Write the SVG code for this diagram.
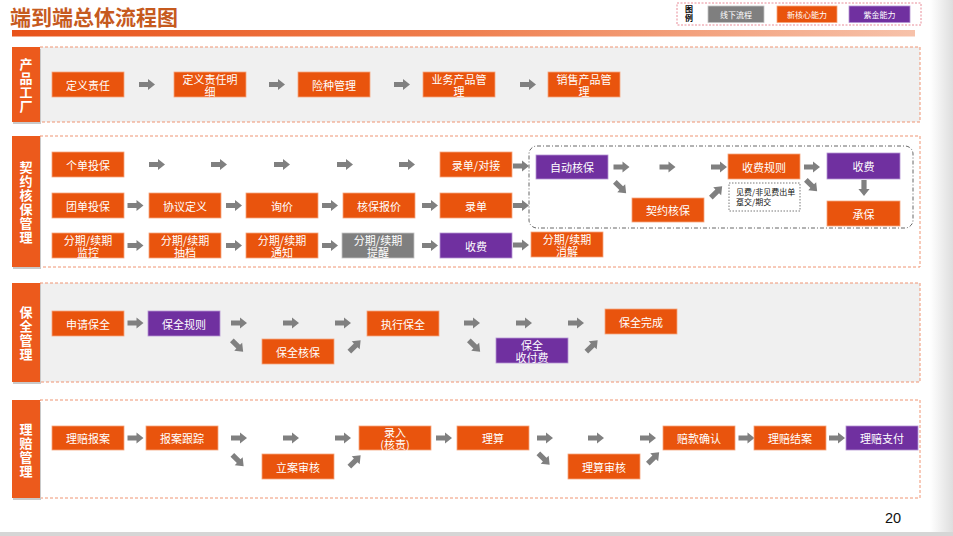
<svg xmlns="http://www.w3.org/2000/svg" xmlns:xlink="http://www.w3.org/1999/xlink" width="953" height="536" viewBox="0 0 953 536">
  <style>
    .o { fill: #e9540d; stroke: #f4a57e; stroke-width: 0.8; }
    .p { fill: #7030a0; stroke: #b594d2; stroke-width: 0.8; }
    .g { fill: #7f7f7f; stroke: #c4c4c4; stroke-width: 0.8; }
    .t { font-family: "Noto Sans CJK SC", "Noto Sans", sans-serif; font-size: 11px; fill: #ffffff; text-anchor: middle; dominant-baseline: central; }
    .lt { font-family: "Noto Sans CJK SC", "Noto Sans", sans-serif; font-size: 8px; fill: #ffffff; text-anchor: middle; dominant-baseline: central; }
    .side { font-family: "Noto Sans CJK SC", sans-serif; font-size: 13px; font-weight: bold; fill: #ffffff; text-anchor: middle; writing-mode: vertical-rl; letter-spacing: 1px; }
    .sec { stroke: #ef9472; stroke-width: 1; stroke-dasharray: 3 2; }
    .bar { fill: #ec5a1c; }
    .shadow { fill: #c9c9c9; }
    .arr { fill: #808080; }
  </style>
  <defs>
    <linearGradient id="titleBar" x1="0" y1="0" x2="1" y2="0">
      <stop offset="0" stop-color="#e8531a"/>
      <stop offset="0.5" stop-color="#ef7f4f"/>
      <stop offset="1" stop-color="#f7c2aa"/>
    </linearGradient>
    <linearGradient id="edge" x1="0" y1="0" x2="1" y2="0">
      <stop offset="0" stop-color="#ffffff"/>
      <stop offset="1" stop-color="#dedede"/>
    </linearGradient>
    <!-- block arrow, centred on the origin, pointing right -->
    <polygon id="ar" class="arr" points="-8,-2.6 1,-2.6 1,-5.6 8,0 1,5.6 1,2.6 -8,2.6"/>
  </defs>

  <rect width="953" height="536" fill="#ffffff"/>
  <rect x="930" y="0" width="23" height="536" fill="url(#edge)"/>
  <rect x="0" y="532" width="953" height="4" fill="#d6d6d6"/>

  <!-- heading -->
  <text x="10" y="24.5" font-family="Noto Sans CJK SC, sans-serif" font-size="21" font-weight="bold" fill="#c65a1e">端到端总体流程图</text>
  <rect x="12" y="30" width="903" height="6.5" fill="url(#titleBar)"/>

  <!-- legend -->
  <g id="legend">
    <rect x="677" y="3" width="244" height="22" fill="#ffffff" stroke="#e2707e" stroke-width="0.8" stroke-dasharray="2 1.5"/>
    <text x="689" y="14" font-family="Noto Sans CJK SC, sans-serif" font-size="8" font-weight="bold" fill="#000" text-anchor="middle" dominant-baseline="central" writing-mode="vertical-rl" letter-spacing="1">图例</text>
    <rect class="g" x="708" y="6" width="56" height="16.5"/>
    <text class="lt" x="736" y="14.5">线下流程</text>
    <rect class="o" x="777" y="6" width="60" height="16.5"/>
    <text class="lt" x="807" y="14.5">新核心能力</text>
    <rect class="p" x="849" y="6" width="61" height="16.5"/>
    <text class="lt" x="879.5" y="14.5">紫金能力</text>
  </g>

  <!-- section frames -->
  <g id="sections">
    <rect class="sec" x="40" y="47" width="880" height="75" fill="#f0f0f0"/>
    <rect class="shadow" x="13" y="49" width="28" height="75"/>
    <rect class="bar" x="12" y="47" width="28" height="75"/>
    <text class="side" x="26" y="86">产品工厂</text>

    <rect class="sec" x="40" y="136" width="880" height="131" fill="#ffffff"/>
    <rect class="shadow" x="13" y="138" width="28" height="131"/>
    <rect class="bar" x="12" y="136" width="28" height="131"/>
    <text class="side" x="26" y="203">契约核保管理</text>

    <rect class="sec" x="40" y="283" width="880" height="99" fill="#f0f0f0"/>
    <rect class="shadow" x="13" y="285" width="28" height="99"/>
    <rect class="bar" x="12" y="283" width="28" height="99"/>
    <text class="side" x="26" y="333.5">保全管理</text>

    <rect class="sec" x="40" y="400" width="880" height="98" fill="#ffffff"/>
    <rect class="shadow" x="13" y="402" width="28" height="98"/>
    <rect class="bar" x="12" y="400" width="28" height="98"/>
    <text class="side" x="26" y="450.5">理赔管理</text>
  </g>

  <!-- underwriting sub-area -->
  <rect id="auto-area" x="529" y="146" width="384" height="82" rx="8" fill="none" stroke="#555555" stroke-width="0.9" stroke-dasharray="4 2 1 2"/>

  <!-- connectors -->
  <g id="connectors">
    <!-- product factory -->
    <use xlink:href="#ar" transform="translate(147,84.5)"/>
    <use xlink:href="#ar" transform="translate(277,84.5)"/>
    <use xlink:href="#ar" transform="translate(402,84.5)"/>
    <use xlink:href="#ar" transform="translate(528,84.5)"/>
    <!-- underwriting row 1 -->
    <use xlink:href="#ar" transform="translate(157,164.5)"/>
    <use xlink:href="#ar" transform="translate(219,164.5)"/>
    <use xlink:href="#ar" transform="translate(282,164.5)"/>
    <use xlink:href="#ar" transform="translate(345,164.5)"/>
    <use xlink:href="#ar" transform="translate(407,164.5)"/>
    <use xlink:href="#ar" transform="translate(521,166)"/>
    <!-- underwriting row 2 -->
    <use xlink:href="#ar" transform="translate(135.5,205.5)"/>
    <use xlink:href="#ar" transform="translate(234,205.5)"/>
    <use xlink:href="#ar" transform="translate(330,205.5)"/>
    <use xlink:href="#ar" transform="translate(430,205.5)"/>
    <use xlink:href="#ar" transform="translate(521,205.5)"/>
    <!-- underwriting row 3 -->
    <use xlink:href="#ar" transform="translate(135.5,245.5)"/>
    <use xlink:href="#ar" transform="translate(234,245.5)"/>
    <use xlink:href="#ar" transform="translate(330,245.5)"/>
    <use xlink:href="#ar" transform="translate(430,245.5)"/>
    <use xlink:href="#ar" transform="translate(521,245)"/>
    <!-- inside the underwriting area -->
    <use xlink:href="#ar" transform="translate(621.5,167)"/>
    <use xlink:href="#ar" transform="translate(667.5,167)"/>
    <use xlink:href="#ar" transform="translate(719,167)"/>
    <use xlink:href="#ar" transform="translate(620.5,187.5) rotate(45)"/>
    <use xlink:href="#ar" transform="translate(716.5,192) rotate(-45)"/>
    <use xlink:href="#ar" transform="translate(812,167)"/>
    <use xlink:href="#ar" transform="translate(811.5,185.5) rotate(45)"/>
    <use xlink:href="#ar" transform="translate(864,188) rotate(90)"/>
    <!-- endorsement -->
    <use xlink:href="#ar" transform="translate(135.5,323)"/>
    <use xlink:href="#ar" transform="translate(239,323)"/>
    <use xlink:href="#ar" transform="translate(291,323)"/>
    <use xlink:href="#ar" transform="translate(343,323)"/>
    <use xlink:href="#ar" transform="translate(472,323)"/>
    <use xlink:href="#ar" transform="translate(524,323)"/>
    <use xlink:href="#ar" transform="translate(576,323)"/>
    <use xlink:href="#ar" transform="translate(237.5,346) rotate(45)"/>
    <use xlink:href="#ar" transform="translate(355,346) rotate(-45)"/>
    <use xlink:href="#ar" transform="translate(474.5,346) rotate(45)"/>
    <use xlink:href="#ar" transform="translate(592,346) rotate(-45)"/>
    <!-- claims -->
    <use xlink:href="#ar" transform="translate(135.5,438)"/>
    <use xlink:href="#ar" transform="translate(239,438)"/>
    <use xlink:href="#ar" transform="translate(291,438)"/>
    <use xlink:href="#ar" transform="translate(343,438)"/>
    <use xlink:href="#ar" transform="translate(444,438)"/>
    <use xlink:href="#ar" transform="translate(545,438)"/>
    <use xlink:href="#ar" transform="translate(596,438)"/>
    <use xlink:href="#ar" transform="translate(648,438)"/>
    <use xlink:href="#ar" transform="translate(746.5,438)"/>
    <use xlink:href="#ar" transform="translate(837,438)"/>
    <use xlink:href="#ar" transform="translate(238,460.5) rotate(45)"/>
    <use xlink:href="#ar" transform="translate(355,461) rotate(-45)"/>
    <use xlink:href="#ar" transform="translate(544,459) rotate(45)"/>
    <use xlink:href="#ar" transform="translate(653.5,458) rotate(-45)"/>
  </g>

  <!-- product factory nodes -->
  <g id="n-dyzr"><rect class="o" x="52" y="72" width="72" height="25"/><text class="t" x="88" y="84.5">定义责任</text></g>
  <g id="n-dyzrmx"><rect class="o" x="174" y="72" width="72" height="25"/><text class="t"><tspan x="210" y="78.5">定义责任明</tspan><tspan x="210" y="90.5">细</tspan></text></g>
  <g id="n-xzgl"><rect class="o" x="298" y="72" width="72" height="25"/><text class="t" x="334" y="84.5">险种管理</text></g>
  <g id="n-ywcp"><rect class="o" x="423" y="72" width="72" height="25"/><text class="t"><tspan x="459" y="78.5">业务产品管</tspan><tspan x="459" y="90.5">理</tspan></text></g>
  <g id="n-xscp"><rect class="o" x="548" y="72" width="72" height="25"/><text class="t"><tspan x="584" y="78.5">销售产品管</tspan><tspan x="584" y="90.5">理</tspan></text></g>

  <!-- underwriting nodes -->
  <g id="n-gdtb"><rect class="o" x="52" y="152" width="72" height="25"/><text class="t" x="88" y="164.5">个单投保</text></g>
  <g id="n-lddj"><rect class="o" x="440" y="152" width="72" height="25"/><text class="t" x="476" y="164.5">录单/对接</text></g>
  <g id="n-tdtb"><rect class="o" x="52" y="193" width="72" height="25"/><text class="t" x="88" y="205.5">团单投保</text></g>
  <g id="n-xydy"><rect class="o" x="149" y="193" width="72" height="25"/><text class="t" x="185" y="205.5">协议定义</text></g>
  <g id="n-xj"><rect class="o" x="246" y="193" width="72" height="25"/><text class="t" x="282" y="205.5">询价</text></g>
  <g id="n-hbbj"><rect class="o" x="343" y="193" width="72" height="25"/><text class="t" x="379" y="205.5">核保报价</text></g>
  <g id="n-ld"><rect class="o" x="440" y="193" width="72" height="25"/><text class="t" x="476" y="205.5">录单</text></g>
  <g id="n-fqjk"><rect class="o" x="52" y="233" width="72" height="25"/><text class="t"><tspan x="88" y="239.5">分期/续期</tspan><tspan x="88" y="251.5">监控</tspan></text></g>
  <g id="n-fqcd"><rect class="o" x="149" y="233" width="72" height="25"/><text class="t"><tspan x="185" y="239.5">分期/续期</tspan><tspan x="185" y="251.5">抽档</tspan></text></g>
  <g id="n-fqtz"><rect class="o" x="246" y="233" width="72" height="25"/><text class="t"><tspan x="282" y="239.5">分期/续期</tspan><tspan x="282" y="251.5">通知</tspan></text></g>
  <g id="n-fqtx"><rect class="g" x="342" y="233" width="72" height="25"/><text class="t"><tspan x="378" y="239.5">分期/续期</tspan><tspan x="378" y="251.5">提醒</tspan></text></g>
  <g id="n-sf1"><rect class="p" x="440" y="233" width="72" height="25"/><text class="t" x="476" y="245.5">收费</text></g>
  <g id="n-fqxj"><rect class="o" x="531" y="232" width="72" height="25"/><text class="t"><tspan x="567" y="238.5">分期/续期</tspan><tspan x="567" y="250.5">消解</tspan></text></g>
  <g id="n-zdhb"><rect class="p" x="536" y="155" width="72" height="24"/><text class="t" x="572" y="167">自动核保</text></g>
  <g id="n-qyhb"><rect class="o" x="632" y="198" width="72" height="24"/><text class="t" x="668" y="210">契约核保</text></g>
  <g id="n-sfgz"><rect class="o" x="728" y="154" width="72" height="25"/><text class="t" x="764" y="166.5">收费规则</text></g>
  <g id="n-sfgz-note">
    <rect x="729" y="183" width="71" height="28" fill="#ffffff" stroke="#555555" stroke-width="0.8" stroke-dasharray="1.5 1.5"/>
    <text font-family="Noto Sans CJK SC, sans-serif" font-size="8" fill="#111111"><tspan x="736" y="195">见费/非见费出单</tspan><tspan x="736" y="205">趸交/期交</tspan></text>
  </g>
  <g id="n-sf2"><rect class="p" x="827" y="153" width="73" height="26"/><text class="t" x="863.5" y="166">收费</text></g>
  <g id="n-cb"><rect class="o" x="827" y="201" width="73" height="25"/><text class="t" x="863.5" y="213.5">承保</text></g>

  <!-- endorsement nodes -->
  <g id="n-sqbq"><rect class="o" x="52" y="311" width="72" height="25"/><text class="t" x="88" y="323.5">申请保全</text></g>
  <g id="n-bqgz"><rect class="p" x="148" y="311" width="72" height="25"/><text class="t" x="184" y="323.5">保全规则</text></g>
  <g id="n-bqhb"><rect class="o" x="262" y="339" width="72" height="25"/><text class="t" x="298" y="351.5">保全核保</text></g>
  <g id="n-zxbq"><rect class="o" x="367" y="311" width="72" height="25"/><text class="t" x="403" y="323.5">执行保全</text></g>
  <g id="n-bqsff"><rect class="p" x="496" y="338" width="72" height="25"/><text class="t"><tspan x="532" y="344.5">保全</tspan><tspan x="532" y="356.5">收付费</tspan></text></g>
  <g id="n-bqwc"><rect class="o" x="605" y="309" width="72" height="25"/><text class="t" x="641" y="321.5">保全完成</text></g>

  <!-- claims nodes -->
  <g id="n-lpba"><rect class="o" x="52" y="426" width="72" height="24"/><text class="t" x="88" y="438">理赔报案</text></g>
  <g id="n-bagz"><rect class="o" x="146" y="426" width="72" height="24"/><text class="t" x="182" y="438">报案跟踪</text></g>
  <g id="n-lash"><rect class="o" x="262" y="454" width="72" height="25"/><text class="t" x="298" y="466.5">立案审核</text></g>
  <g id="n-lr"><rect class="o" x="359" y="426" width="72" height="24"/><text class="t"><tspan x="395" y="432">录入</tspan><tspan x="395" y="444">(核责)</tspan></text></g>
  <g id="n-ls"><rect class="o" x="457" y="426" width="72" height="24"/><text class="t" x="493" y="438">理算</text></g>
  <g id="n-lssh"><rect class="o" x="568" y="454" width="72" height="25"/><text class="t" x="604" y="466.5">理算审核</text></g>
  <g id="n-pkqr"><rect class="o" x="663" y="426" width="72" height="24"/><text class="t" x="699" y="438">赔款确认</text></g>
  <g id="n-lpja"><rect class="o" x="754" y="426" width="72" height="24"/><text class="t" x="790" y="438">理赔结案</text></g>
  <g id="n-lpzf"><rect class="p" x="846" y="426" width="72" height="24"/><text class="t" x="882" y="438">理赔支付</text></g>

  <text x="885" y="523" font-family="Liberation Sans, Arial, sans-serif" font-size="14.5" fill="#111111">20</text>
</svg>
